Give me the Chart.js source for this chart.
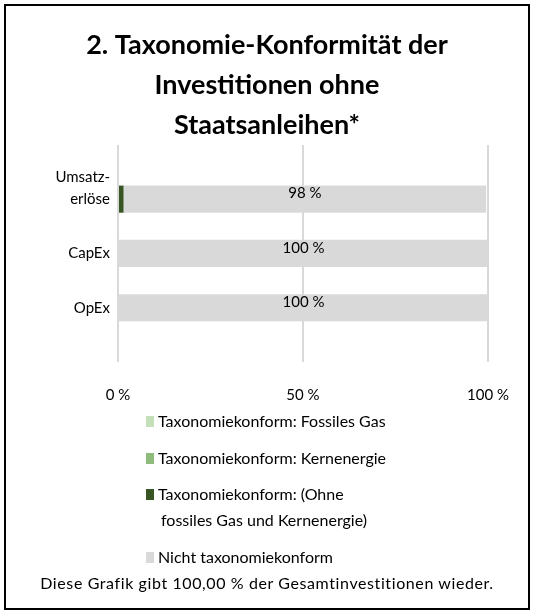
<!DOCTYPE html>
<html>
<head>
<meta charset="utf-8">
<script src="https://cdn.jsdelivr.net/npm/chart.js@4/dist/chart.umd.min.js"></script>
<style>
  html, body { margin: 0; padding: 0; background: #fff; }
  body { width: 534px; height: 614px; position: relative; overflow: hidden; font-family: Lato, "Open Sans", sans-serif; color: #000; }
  #frame { position: absolute; left: 4px; top: 4px; width: 526px; height: 606px; border: 2px solid #000; box-sizing: border-box; }
  #wrap { position: absolute; left: 0; top: 0; width: 534px; height: 428px; }
  #legend { position: absolute; left: 0; top: 0; width: 534px; height: 614px; pointer-events: none; }
  .item { position: absolute; left: 146px; font-size: 16px; line-height: 26px; white-space: nowrap; }
  .box { position: absolute; left: 0; top: 8px; width: 8px; height: 11px; }
  .txt { position: absolute; left: 12px; top: 0; }
  #note { position: absolute; left: 0; width: 534px; top: 571px; text-align: center; font-size: 16px; letter-spacing: 0.6px; line-height: 24px; white-space: nowrap; }
</style>
</head>
<body>
<div id="frame"></div>
<div id="wrap"><canvas id="c" width="534" height="428"></canvas></div>
<div id="legend"></div>
<div id="note"></div>
<script>
// ---- data ----
const titleLines = ['2. Taxonomie-Konformität der', 'Investitionen ohne', 'Staatsanleihen*'];
const categories = ['', ['Umsatz-', 'erlöse', ''], 'CapEx', 'OpEx', ''];
const fossilGas = [null, 0, 0, 0, null];
const nuclear = [null, 0, 0, 0, null];
const alignedOther = [null, 1.5, 0, 0, null];
const notAligned = [null, 98, 100, 100, null];
const valueLabels = ['', '98 %', '100 %', '100 %', ''];
const xTickValues = [0, 50, 100];
const seriesLabels = [
  ['Taxonomiekonform: Fossiles Gas'],
  ['Taxonomiekonform: Kernenergie'],
  ['Taxonomiekonform: (Ohne', 'fossiles Gas und Kernenergie)'],
  ['Nicht taxonomiekonform']
];
const seriesColors = ['#c5dfb9', '#8fbc7c', '#375623', '#d9d9d9'];
const footnote = 'Diese Grafik gibt 100,00 % der Gesamtinvestitionen wieder.';

const FONT = 'Lato, "Open Sans", sans-serif';

const valueLabelPlugin = {
  id: 'valueLabels',
  afterDatasetsDraw(chart) {
    const meta = chart.getDatasetMeta(3);
    const ctx = chart.ctx;
    ctx.save();
    ctx.font = '15px ' + FONT;
    ctx.fillStyle = '#000';
    ctx.textAlign = 'center';
    ctx.textBaseline = 'middle';
    meta.data.forEach((el, i) => {
      const t = valueLabels[i];
      if (!t || notAligned[i] == null) return;
      const cx = (el.x + el.base) / 2;
      ctx.fillText(t, cx, el.y - el.height / 2 + 8);
    });
    ctx.restore();
  }
};

const datasets = [fossilGas, nuclear, alignedOther, notAligned].map((d, i) => ({
  label: seriesLabels[i].join(' '),
  data: d,
  backgroundColor: seriesColors[i],
  borderWidth: 0,
  categoryPercentage: 0.5,
  barPercentage: 1
}));

new Chart(document.getElementById('c'), {
  type: 'bar',
  data: { labels: categories, datasets },
  plugins: [valueLabelPlugin],
  options: {
    indexAxis: 'y',
    responsive: false,
    animation: false,
    layout: { padding: { left: 24, right: 24, top: 0, bottom: 0 } },
    plugins: {
      legend: { display: false },
      tooltip: { enabled: false },
      title: {
        display: true,
        text: titleLines,
        color: '#000',
        font: { family: FONT, size: 27, weight: 'bold', lineHeight: 1.48 },
        padding: { top: 25, bottom: 0 }
      }
    },
    scales: {
      x: {
        stacked: true,
        min: 0,
        max: 100,
        afterBuildTicks: (scale) => { scale.ticks = xTickValues.map(v => ({ value: v })); },
        ticks: {
          callback: (v) => v + ' %',
          color: '#000',
          font: { family: FONT, size: 15 },
          padding: 24,
          maxRotation: 0
        },
        grid: { color: '#d9d9d9', lineWidth: 2, drawTicks: false },
        border: { display: false }
      },
      y: {
        stacked: true,
        offset: false,
        afterFit: (scale) => { scale.width = 94; },
        ticks: {
          color: '#000',
          font: { family: FONT, size: 15, lineHeight: 1.5 },
          padding: 8,
          autoSkip: false
        },
        grid: { display: false, drawTicks: false },
        border: { display: false }
      },
      yRight: {
        type: 'category',
        position: 'right',
        offset: false,
        afterFit: (scale) => { scale.width = 22; },
        ticks: { display: false },
        grid: { display: false, drawTicks: false },
        border: { display: false }
      }
    }
  }
});

// ---- HTML legend and footnote ----
const legendTops = [408, 445, 481, 544];
const legendEl = document.getElementById('legend');
seriesLabels.forEach((lines, i) => {
  const item = document.createElement('div');
  item.className = 'item';
  item.style.top = legendTops[i] + 'px';
  const box = document.createElement('div');
  box.className = 'box';
  box.style.background = seriesColors[i];
  const txt = document.createElement('div');
  txt.className = 'txt';
  lines.forEach((ln, j) => {
    const s = document.createElement('div');
    s.textContent = ln;
    if (j > 0) s.style.paddingLeft = '3px';
    txt.appendChild(s);
  });
  item.appendChild(box);
  item.appendChild(txt);
  legendEl.appendChild(item);
});
document.getElementById('note').textContent = footnote;
</script>
</body>
</html>
